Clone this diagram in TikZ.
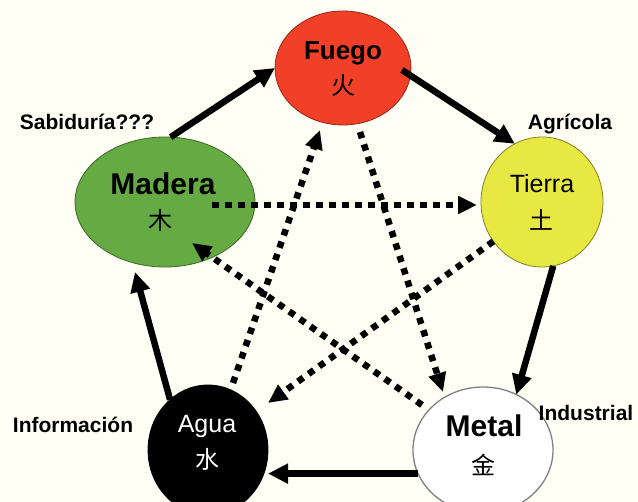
\documentclass[tikz,border=0pt]{standalone}
\usepackage{fontspec}
\setmainfont{Liberation Sans}
\newfontfamily\cjk{Noto Sans CJK SC}
\usetikzlibrary{shapes.geometric,arrows.meta,calc}
\definecolor{bgcream}{RGB}{255,255,246}
\definecolor{fuegored}{RGB}{242,64,40}
\definecolor{maderagreen}{RGB}{102,170,68}
\definecolor{tierrayellow}{RGB}{232,232,66}
\begin{document}
\begin{tikzpicture}[x=1pt,y=-1pt,
  elem/.style={ellipse,inner sep=0pt,outer sep=0pt,line width=0.8pt},
  solidarrow/.style={line width=6.5pt,-{Triangle[length=20pt,width=19pt]}},
  dotarrow/.style={line width=6.5pt,dash pattern=on 6.5pt off 6.5pt,-{Triangle[length=19pt,width=17pt]}},
  sidelabel/.style={font=\bfseries\fontsize{21}{23}\selectfont,inner sep=0pt},
  cjkchar/.style={font=\cjk\fontsize{24}{26}\selectfont,inner sep=0pt}]
\fill[bgcream] (0,0) rectangle (638,502);
\useasboundingbox (0,0) rectangle (638,502);
\clip (0,0) rectangle (638,502);

% element ellipses
\node[elem,draw=fuegored!60!black,fill=fuegored,minimum width=136pt,minimum height=114pt] (fue) at (343,68) {};
\node[elem,draw=maderagreen!60!black,fill=maderagreen,minimum width=180pt,minimum height=130pt] (mad) at (165,202) {};
\node[elem,draw=tierrayellow!55!black,fill=tierrayellow,minimum width=122pt,minimum height=130pt] (tie) at (542,202) {};
\node[elem,draw=black,fill=black,minimum width=120pt,minimum height=130pt] (agu) at (208,450) {};
\node[elem,draw=gray,line width=1.3pt,fill=white,minimum width=140pt,minimum height=126pt] (met) at (483,450) {};

% element names
\node[font=\bfseries\fontsize{26}{28}\selectfont,anchor=base,inner sep=0pt] (tfue) at (343,60) {Fuego};
\node[cjkchar] (cfue) at (343,86) {火};
\node[font=\bfseries\fontsize{30}{32}\selectfont,anchor=base,inner sep=0pt] (tmad) at (163,195) {Madera};
\node[cjkchar] (cmad) at (160,220) {木};
\node[font=\fontsize{25}{27}\selectfont,anchor=base,inner sep=0pt] (ttie) at (542,193) {Tierra};
\node[cjkchar] (ctie) at (541,220) {土};
\node[font=\fontsize{25}{27}\selectfont,anchor=base,inner sep=0pt,text=white] (tagu) at (207,433) {Agua};
\node[cjkchar,text=white] (cagu) at (207,459) {水};
\node[font=\bfseries\fontsize{30}{32}\selectfont,anchor=base,inner sep=0pt] (tmet) at (484,437) {Metal};
\node[cjkchar] (cmet) at (483,465) {金};

% side labels
\node[sidelabel] (lsab) at (87,122) {Sabiduría???};
\node[sidelabel] (lagr) at (570,124) {Agrícola};
\node[sidelabel] (linf) at (73,425) {Información};
\node[sidelabel] (lind) at (586,413) {Industrial};

% generating cycle (solid)
\draw[solidarrow] (mad.85) -- (fue.180);
\draw[solidarrow] ($(fue.center)+(59,2)$) -- (tie.115);
\draw[solidarrow] (tie.-80) -- (met.59);
\draw[solidarrow] (met.200) -- (met.200 -| agu.east);
\draw[solidarrow] (agu.127) -- ($(mad.center)+(-30,70)$);

% controlling cycle (dotted)
\draw[dotarrow] ($(mad.center)+(47,3)$) -- ($(tie.center)+(-65,3)$);
\draw[dotarrow] (tie.219) -- ($(agu.center)+(60,-47)$);
\draw[dotarrow] ($(agu.center)+(25,-67)$) -- ($(fue.center)+(-23,62)$);
\draw[dotarrow] ($(fue.center)+(17,64)$) -- ($(met.center)+(-40,-58)$);
\draw[dotarrow] ($(met.center)+(-61,-45)$) -- ($(mad.center)+(27,41)$);
\end{tikzpicture}
\end{document}
